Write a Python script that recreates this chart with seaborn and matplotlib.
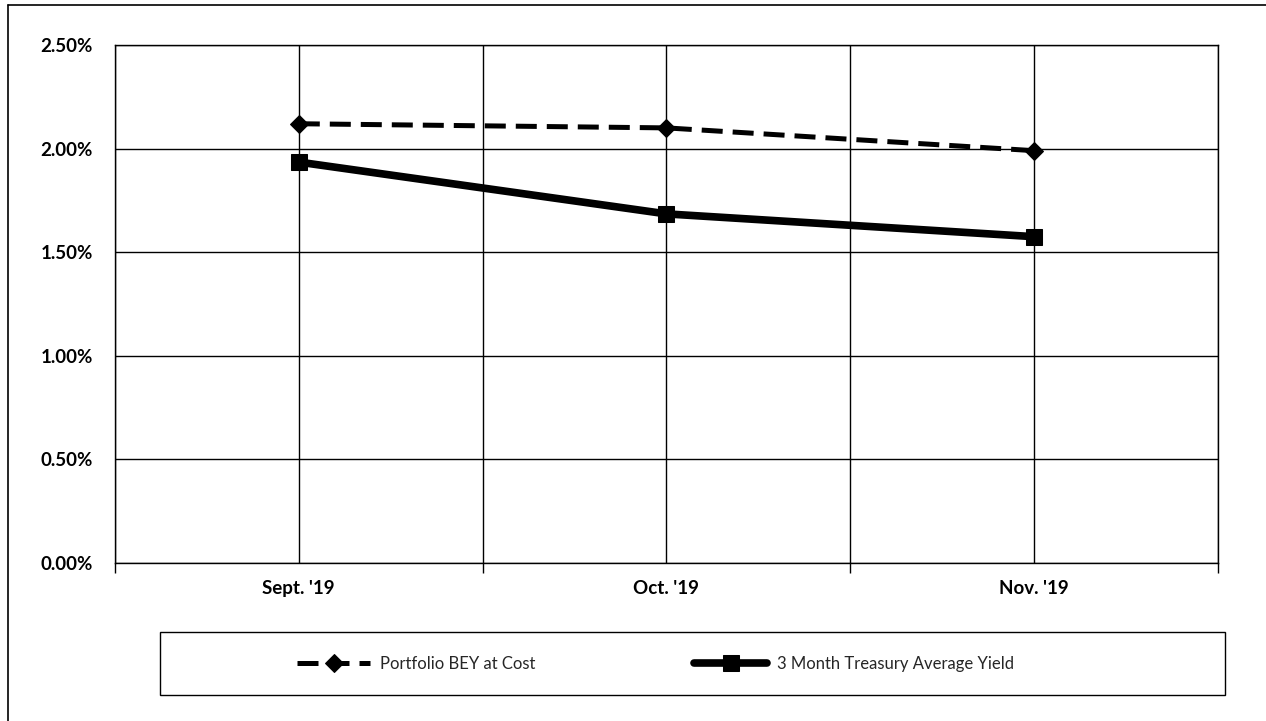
import matplotlib
matplotlib.use("Agg")
import matplotlib.pyplot as plt
import matplotlib.lines as mlines
import matplotlib.patches as mpatches
from matplotlib.ticker import FixedLocator, PercentFormatter
import seaborn as sns
import pandas as pd

# chart data
months = ["Sept. '19", "Oct. '19", "Nov. '19"]
portfolio_bey = [2.12, 2.10, 1.99]
treasury_yield = [1.935, 1.685, 1.575]
y_ticks = [0.0, 0.5, 1.0, 1.5, 2.0, 2.5]

sns.set_theme(style="white")
plt.rcParams['font.family'] = ['Lato', 'DejaVu Sans']

df = pd.DataFrame({
    'pos': range(len(months)),
    'Portfolio BEY at Cost': portfolio_bey,
    '3 Month Treasury Average Yield': treasury_yield,
})

fig = plt.figure(figsize=(12.66, 7.21), dpi=100)
ax = fig.add_axes([0.0908, 0.219, 0.8713, 0.7186])

sns.lineplot(data=df, x='pos', y='Portfolio BEY at Cost', ax=ax,
             color='black', linewidth=3.6, dashes=False, marker='D',
             markersize=9, markeredgecolor='black',
             label='Portfolio BEY at Cost', zorder=4)
ax.lines[-1].set_linestyle((0, (4.2, 2.0)))
sns.lineplot(data=df, x='pos', y='3 Month Treasury Average Yield', ax=ax,
             color='black', linewidth=5.5, marker='s', markersize=11,
             markeredgecolor='black',
             label='3 Month Treasury Average Yield', zorder=5)

ax.set_xlim(-0.5, len(months) - 0.5)
ax.set_ylim(y_ticks[0], y_ticks[-1])
ax.set_xticks(range(len(months)))
ax.set_xticklabels(months, fontsize=13.5, fontweight='bold')
ax.xaxis.set_minor_locator(FixedLocator([i - 0.5 for i in range(len(months) + 1)]))
ax.set_yticks(y_ticks)
ax.yaxis.set_major_formatter(PercentFormatter(decimals=2))
for lbl in ax.get_yticklabels():
    lbl.set_fontsize(13.5)
    lbl.set_fontweight('bold')
ax.tick_params(axis='x', which='major', length=0, pad=12, colors='black')
ax.tick_params(axis='x', which='minor', length=7, width=1, direction='out',
               color='black', bottom=True)
ax.tick_params(axis='y', length=0, pad=16, colors='black')
ax.set_xlabel('')
ax.set_ylabel('')

ax.grid(True, which='major', axis='both', color='black', linewidth=1)
ax.grid(True, which='minor', axis='x', color='black', linewidth=1)
for sp in ax.spines.values():
    sp.set_color('black')
    sp.set_linewidth(1)

ax.get_legend().remove()
handles, labels = ax.get_legend_handles_labels()

# legend box below the plot
box = mpatches.Rectangle((0.1264, 0.036), 0.8416, 0.087, transform=fig.transFigure,
                         fill=False, edgecolor='black', linewidth=1)
fig.patches.append(box)
fig.legend(handles, labels, loc='center', bbox_to_anchor=(0.518, 0.0795),
           ncol=2, frameon=False, fontsize=12, handlelength=4.4,
           columnspacing=9.5, handletextpad=0.6)

# page border (left and top)
fig.add_artist(mlines.Line2D([0.0063, 0.0063], [0, 0.993], transform=fig.transFigure,
                             color='black', linewidth=1.2))
fig.add_artist(mlines.Line2D([0.0063, 1], [0.993, 0.993], transform=fig.transFigure,
                             color='black', linewidth=1.2))

fig.savefig('out.png', dpi=100, facecolor='white')
